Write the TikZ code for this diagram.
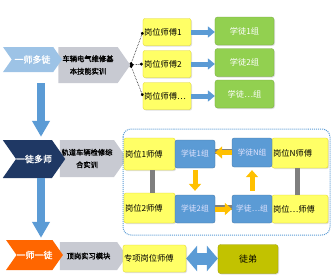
\documentclass[tikz,border=0pt]{standalone}
\usepackage{fontspec}
\setmainfont{Noto Sans CJK SC}[AutoFakeBold=1.6]
\usetikzlibrary{shapes.symbols,arrows.meta,shadows}

\definecolor{paleblue}{HTML}{9DC3E6}
\definecolor{navyblue}{HTML}{1F3864}
\definecolor{tangerine}{HTML}{FF6600}
\definecolor{chevgray}{HTML}{C8CAD2}
\definecolor{boxyellow}{HTML}{FFFF66}
\definecolor{boxgreen}{HTML}{92D050}
\definecolor{boxblue}{HTML}{5B9BD5}
\definecolor{amber}{HTML}{FFC000}
\definecolor{tuolive}{HTML}{C2C200}
\definecolor{linkgray}{HTML}{7F7F7F}

\tikzset{
  chev/.style={shape=signal, signal from=west, signal to=east, signal pointer angle=110,
    inner sep=0pt, text=white, font=\bfseries\fontsize{9}{10}\selectfont},
  task/.style={shape=signal, signal to=east, signal pointer angle=110, fill=chevgray,
    inner sep=0pt, align=center, font=\bfseries\fontsize{7.3}{12.5}\selectfont},
  master/.style={fill=boxyellow, draw=yellow!85!black, line width=0.3bp, rounded corners=2bp,
    inner sep=1bp, align=left, font=\fontsize{8.3}{9}\selectfont,
    drop shadow={opacity=0.25, shadow xshift=1bp, shadow yshift=-1bp}},
  group/.style={fill=boxgreen, draw=boxgreen!80!black, line width=0.3bp, rounded corners=2.5bp,
    text=white, font=\fontsize{8.3}{9}\selectfont,
    drop shadow={opacity=0.25, shadow xshift=1bp, shadow yshift=-1bp}},
  pupil/.style={fill=boxblue, draw=boxblue!75!black, line width=0.3bp, rounded corners=2bp,
    text=blue!10!white, font=\fontsize{7.8}{9}\selectfont},
  fatarrow/.style={draw=boxblue, line width=5bp, -{Triangle[width=11bp,length=7bp]}},
  turnarrow/.style={draw=amber, line width=5bp, -{Triangle[width=12bp,length=7bp]}},
  bararrow/.style={draw=boxblue, line width=8bp, -{Triangle[width=17bp,length=16bp]}},
  feeler/.style={densely dotted, line width=0.6bp, {Circle[length=3bp]}-{Circle[length=3bp]}},
  link/.style={draw=linkgray, line width=5bp}
}

\begin{document}
\begin{tikzpicture}[x=1bp,y=-1bp]
  \useasboundingbox (0,0) rectangle (334,280);
  \coordinate (bx) at (41,0);

  % stage one
  \node[task, minimum width=72bp, minimum height=36bp] (task1) at (88,65) {车辆电气维修基\\本技能实训};
  \node[chev, fill=paleblue, minimum width=59bp, minimum height=25bp] (one) at (32.5,59.5) {一师多徒};
  \node[master, text width=46bp, minimum height=27bp] (mone) at (167,32) {岗位师傅1};
  \node[master, text width=46bp, minimum height=27bp] (mtwo) at (167,64) {岗位师傅2};
  \node[master, text width=46bp, minimum height=27bp] (mdots) at (167,96) {岗位师傅…};
  \node[group, minimum width=59bp, minimum height=28bp] (gone) at (244.5,31) {学徒1组};
  \node[group, minimum width=59bp, minimum height=28bp] (gtwo) at (244.5,62.5) {学徒2组};
  \node[group, minimum width=59bp, minimum height=28bp] (gdots) at (244.5,94) {学徒…组};
  \draw[feeler] (task1.east) -- (mone.west);
  \draw[feeler] (task1.east) -- (mtwo.west);
  \draw[feeler] (task1.east) -- (mdots.west);
  \draw[fatarrow] (mone.east) -- (mone.east -| gone.west);
  \draw[fatarrow] (mtwo.east) -- (mtwo.east -| gtwo.west);
  \draw[fatarrow] (mdots.east) -- (mdots.east -| gdots.west);

  % stage two
  \node[task, minimum width=67bp, minimum height=37bp] (task2) at (87,158.5) {轨道车辆检修综\\合实训};
  \node[chev, fill=navyblue, minimum width=58bp, minimum height=38bp] (two) at (34,159) {一徒多师};
  \draw[bararrow, shorten >=3bp] (task1.south -| bx) -- (two.north -| bx);
  \draw[boxblue, line width=1bp, densely dotted, rounded corners=8bp] (123,129) rectangle (330,235);
  \node[master, text width=49bp, minimum height=32bp] (pone) at (149.5,154) {岗位1师傅};
  \node[master, text width=49bp, minimum height=30bp] (ptwo) at (149.5,208) {岗位2师傅};
  \node[master, text width=54bp, minimum height=30bp] (pN) at (300,153) {岗位N师傅};
  \node[master, text width=54bp, minimum height=28bp] (pdots) at (300,209) {岗位…师傅};
  \node[pupil, minimum width=40bp, minimum height=28bp] (aone) at (195,154) {学徒1组};
  \node[pupil, minimum width=40bp, minimum height=28bp] (atwo) at (195,209) {学徒2组};
  \node[pupil, minimum width=40bp, minimum height=29bp] (aN) at (252,152.5) {学徒N组};
  \node[pupil, minimum width=40bp, minimum height=28bp] (adots) at (252,209) {学徒…组};
  \draw[link] (pone.south -| 152,0) -- (ptwo.north -| 152,0);
  \draw[link] (pN.south -| 297,0) -- (pdots.north -| 297,0);
  \draw[linkgray, line width=5bp] ([yshift=1.5bp]aN.west) -- ([yshift=1.5bp]aN.west -| aone.east);
  \draw[linkgray, line width=5bp] ([yshift=1.5bp]atwo.east) -- ([yshift=1.5bp]atwo.east -| adots.west);
  \draw[turnarrow, shorten <=2bp, shorten >=4bp] (aone.south) -- (aone.south |- atwo.north);
  \draw[turnarrow] (atwo.east) -- (atwo.east -| adots.west);
  \draw[turnarrow, shorten <=4bp, shorten >=3bp] (adots.north) -- (adots.north |- aN.south);
  \draw[turnarrow] (aN.west) -- (aN.west -| aone.east);

  % stage three
  \node[task, minimum width=67bp, minimum height=28bp] (task3) at (88.5,256) {顶岗实习模块};
  \node[chev, fill=tangerine, minimum width=55bp, minimum height=30bp] (three) at (34.5,255) {一师一徒};
  \draw[bararrow, shorten >=2bp] (two.south -| bx) -- (three.north -| bx);
  \node[master, text width=61bp, minimum height=27bp] (expert) at (154.5,258.5) {专项岗位师傅};
  \node[group, fill=tuolive, draw=tuolive!80!black, text=black, font=\fontsize{9}{10}\selectfont,
    minimum width=60bp, minimum height=29bp] (pupils) at (248,259) {徒弟};
  \draw[draw=boxblue, line width=12bp, {Triangle[width=25bp,length=11bp]}-{Triangle[width=25bp,length=11bp]}]
    (expert.east) -- (expert.east -| pupils.west);
\end{tikzpicture}
\end{document}
